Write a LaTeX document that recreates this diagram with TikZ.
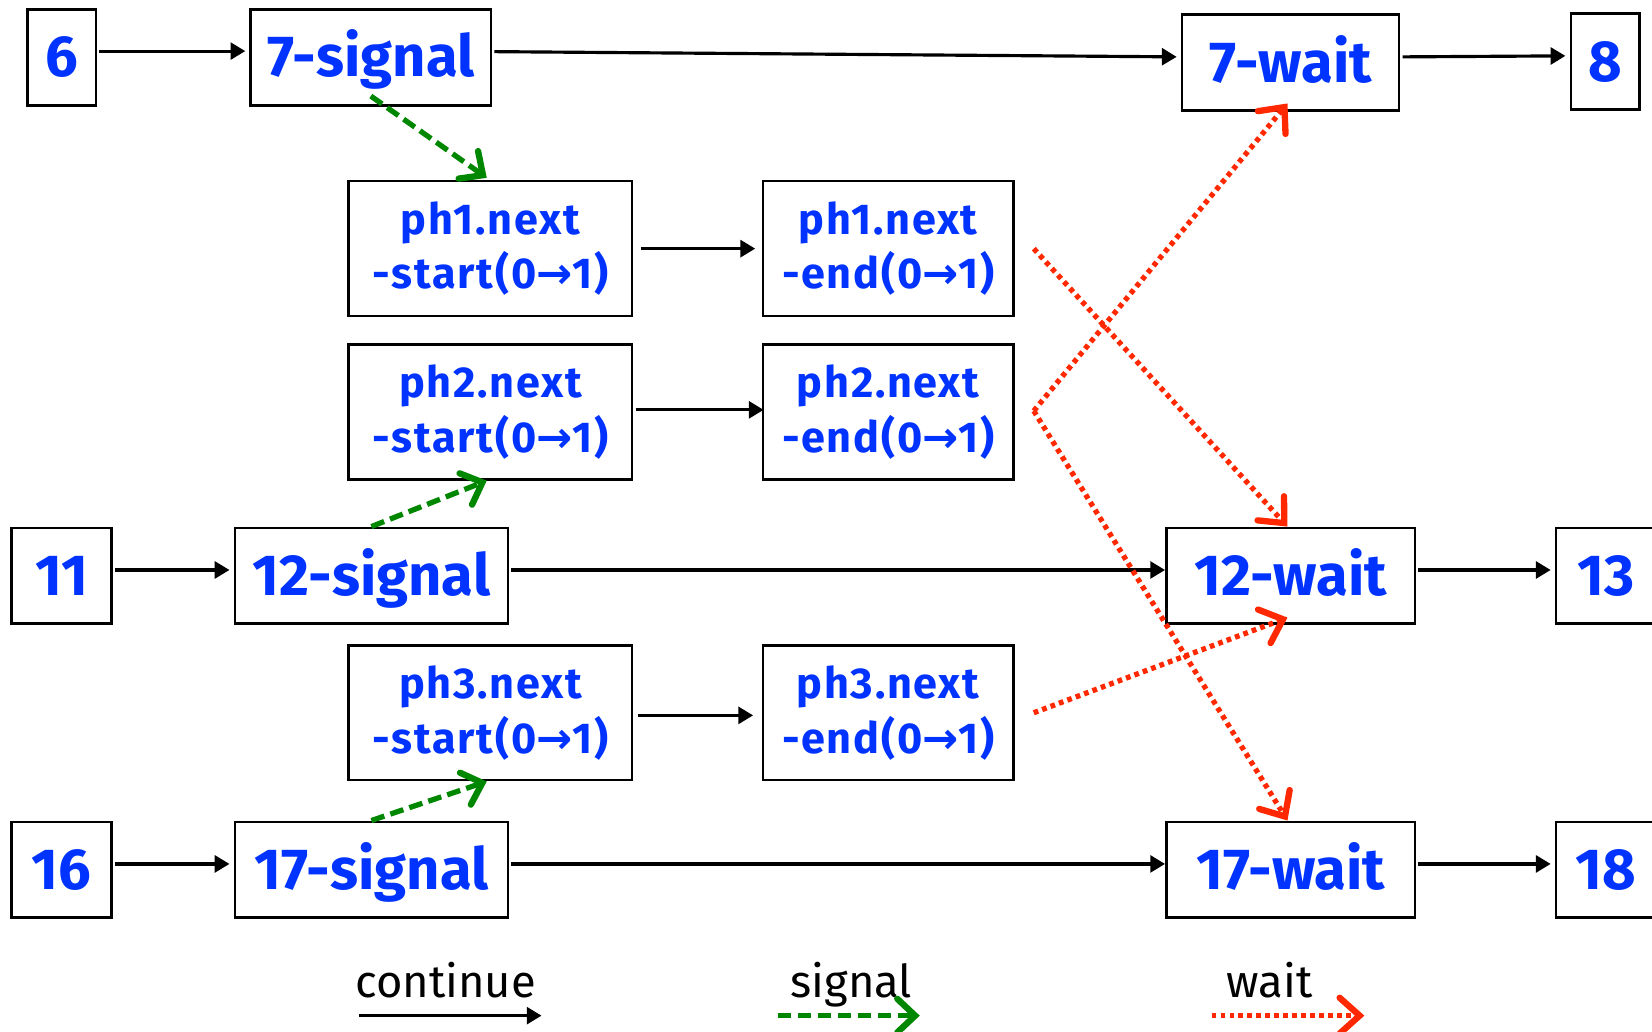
\documentclass[tikz,border=0pt]{standalone}
\usepackage{fontspec}
\setmainfont{Fira Sans}
\newfontfamily\arrfont{DejaVu Sans}
\newfontfamily\phfont[LetterSpace=4]{Fira Sans}
\usetikzlibrary{arrows.meta,calc}
\definecolor{txtblue}{RGB}{0,51,255}
\definecolor{sgreen}{RGB}{0,135,0}
\definecolor{wred}{RGB}{255,40,0}
\newcommand{\ra}{{\arrfont\bfseries →}}
\begin{document}
\begin{tikzpicture}[x=1pt,y=-1pt,
  box/.style={draw=black,line width=2.4pt,text=txtblue,inner sep=0pt,align=center},
  big/.style={box,minimum height=91pt,text height=37pt,text depth=0pt,font=\fontsize{55}{60}\selectfont\bfseries},
  ph/.style={box,minimum height=128pt,font=\phfont\fontsize{41}{52}\selectfont\bfseries},
  legtext/.style={anchor=base,font=\fontsize{43}{48}\selectfont},
  cont/.style={black,line width=3pt,shorten <=2pt,shorten >=4pt,-{Triangle[length=14pt,width=16pt]}},
  sig/.style={sgreen,line width=5pt,dash pattern=on 13pt off 6pt,-{Straight Barb[length=17pt,width=32pt,line width=6pt,line cap=round]}},
  wt/.style={wred,line width=5pt,dash pattern=on 4.5pt off 4pt,-{Straight Barb[length=19pt,width=34pt,line width=6pt,line cap=round]}},
]
\useasboundingbox (0,0) rectangle (1568,979);
% row 1
\node[big,minimum width=65pt] (n6) at (58.5,54.5) {6};
\node[big,minimum width=228pt] (s7) at (352,54.5) {7-signal};
\node[big,minimum width=206pt] (w7) at (1225,59.5) {7-wait};
\node[big,minimum width=65pt] (n8) at (1523.5,58.5) {8};
% ph boxes
\node[ph,minimum width=269pt] (p1s) at (465.5,236) {ph1.next\\-start(0\ra1)};
\node[ph,minimum width=238pt] (p1e) at (843,236) {ph1.next\\-end(0\ra1)};
\node[ph,minimum width=269pt] (p2s) at (465.5,391) {ph2.next\\-start(0\ra1)};
\node[ph,minimum width=238pt] (p2e) at (843,391) {ph2.next\\-end(0\ra1)};
% row 12
\node[big,minimum width=95pt] (n11) at (58.5,546.5) {11};
\node[big,minimum width=259pt] (s12) at (352.5,546.5) {12-signal};
\node[big,minimum width=236pt] (w12) at (1225,546.5) {12-wait};
\node[big,minimum width=95pt] (n13) at (1524.5,546.5) {13};
% ph3
\node[ph,minimum width=269pt] (p3s) at (465.5,676.5) {ph3.next\\-start(0\ra1)};
\node[ph,minimum width=238pt] (p3e) at (843,676.5) {ph3.next\\-end(0\ra1)};
% row 17
\node[big,minimum width=95pt] (n16) at (58.5,825.5) {16};
\node[big,minimum width=259pt] (s17) at (352.5,825.5) {17-signal};
\node[big,minimum width=236pt] (w17) at (1225,825.5) {17-wait};
\node[big,minimum width=95pt] (n18) at (1524.5,825.5) {18};
% continue arrows
\draw[cont] ([yshift=6pt]n6.east) -- ([yshift=6pt]s7.west);
\draw[cont] ([yshift=5.5pt]s7.east) -- ([yshift=5.5pt]w7.west);
\draw[cont] ([yshift=5.5pt]w7.east) -- ([yshift=5.5pt]n8.west);
\draw[cont] ([xshift=5pt]p1s.east) -- ([xshift=-2pt]p1e.west);
\draw[cont] ([yshift=2pt]p2s.east) -- ([yshift=2pt,xshift=6pt]p2e.west);
\draw[cont] ([xshift=2pt,yshift=-2.5pt]p3s.east) -- ([yshift=-2.5pt,xshift=-4pt]p3e.west);
\draw[cont] ([yshift=5.5pt]n11.east) -- ([yshift=5.5pt]s12.west);
\draw[cont] ([yshift=5.5pt]s12.east) -- ([yshift=5.5pt,xshift=4pt]w12.west);
\draw[cont] ([yshift=5.5pt]w12.east) -- ([yshift=5.5pt]n13.west);
\draw[cont] ([yshift=5.5pt]n16.east) -- ([yshift=5.5pt]s17.west);
\draw[cont] ([yshift=5.5pt]s17.east) -- ([yshift=5.5pt,xshift=4pt]w17.west);
\draw[cont] ([yshift=5.5pt]w17.east) -- ([yshift=5.5pt]n18.west);
% signal arrows
\draw[sig] ([yshift=10pt]s7.south) -- ([xshift=-3.5pt,yshift=2pt]p1s.north);
\draw[sig] (s12.north) -- ([xshift=-3.5pt]p2s.south);
\draw[sig] (s17.north) -- ([xshift=-3.5pt]p3s.south);
% wait arrows
\draw[wt] ([xshift=18pt]p1e.east) -- ([xshift=-3pt]w12.north);
\draw[wt] ([xshift=18pt,yshift=1pt]p2e.east) -- ([xshift=-3pt,yshift=8pt]w7.south);
\draw[wt] ([xshift=18pt,yshift=1pt]p2e.east) -- ([xshift=-3pt]w17.north);
\draw[wt] ([xshift=18pt]p3e.east) -- ([xshift=-3pt,yshift=7pt]w12.south);
% legend
\node[legtext] (lc) at (423,947) {continue};
\node[legtext] (ls) at (808,947) {signal};
\node[legtext] (lw) at (1205,947) {wait};
\coordinate (c1) at (341,964); \coordinate (c2) at (514,964);
\coordinate (g1) at (738,964); \coordinate (g2) at (873,964);
\coordinate (r1) at (1150,964); \coordinate (r2) at (1295,964);
\draw[cont,shorten <=0pt,shorten >=0pt] (c1) -- (c2);
\draw[sig] (g1) -- (g2);
\draw[wt] (r1) -- (r2);
\end{tikzpicture}
\end{document}
